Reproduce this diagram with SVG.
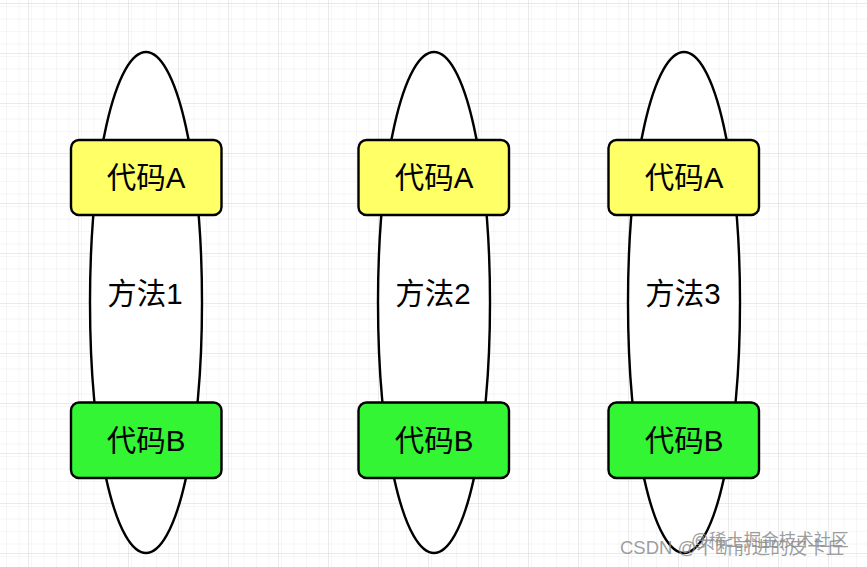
<svg xmlns="http://www.w3.org/2000/svg" width="867" height="567" viewBox="0 0 867 567">
<defs>
<pattern id="minor" x="3" y="3" width="12.5" height="12.5" patternUnits="userSpaceOnUse">
<path d="M0 0 H12.5 M0 0 V12.5" fill="none" stroke="#ececec" stroke-width="1"/>
</pattern>
<pattern id="major" x="28" y="3" width="50" height="50" patternUnits="userSpaceOnUse">
<rect width="50" height="50" fill="url(#minor)"/>
<path d="M0 0 H50 M0 0 V50" fill="none" stroke="#d6d6d6" stroke-width="1"/>
</pattern>
</defs>
<style>
.oval{fill:#ffffff;stroke:#000000;stroke-width:2.4}
.box{stroke:#000000;stroke-width:2.4}
.a{fill:#ffff66}
.b{fill:#33f533}
.t{font-family:"Liberation Sans","Noto Sans CJK SC",sans-serif;font-size:29.5px;fill:#000000;text-anchor:middle;dominant-baseline:central}
.wm{font-family:"Liberation Sans","Noto Sans CJK SC",sans-serif;fill:#8c8c8c;fill-opacity:0.85}
</style>
<rect width="867" height="567" fill="#ffffff"/>
<rect width="867" height="567" fill="url(#major)"/>
<g id="connectors"/>
<g id="method1">
<ellipse class="oval" cx="146" cy="302.5" rx="56" ry="250.5"/>
<text class="t" x="145" y="293">方法1</text>
</g>
<g id="codeA1">
<rect class="box a" x="71" y="140" width="150.5" height="75" rx="8"/>
<text class="t" x="146" y="177.5">代码A</text>
</g>
<g id="codeB1">
<rect class="box b" x="71" y="402.5" width="150.5" height="75.5" rx="8"/>
<text class="t" x="146" y="440">代码B</text>
</g>
<g id="method2">
<ellipse class="oval" cx="434" cy="302.5" rx="56" ry="250.5"/>
<text class="t" x="433" y="293">方法2</text>
</g>
<g id="codeA2">
<rect class="box a" x="358.5" y="140" width="150.5" height="75" rx="8"/>
<text class="t" x="434" y="177.5">代码A</text>
</g>
<g id="codeB2">
<rect class="box b" x="358.5" y="402.5" width="150.5" height="75.5" rx="8"/>
<text class="t" x="434" y="440">代码B</text>
</g>
<g id="method3">
<ellipse class="oval" cx="684" cy="302.5" rx="56" ry="250.5"/>
<text class="t" x="683" y="293">方法3</text>
</g>
<g id="codeA3">
<rect class="box a" x="608.5" y="140" width="150.5" height="75" rx="8"/>
<text class="t" x="684" y="177.5">代码A</text>
</g>
<g id="codeB3">
<rect class="box b" x="608.5" y="402.5" width="150.5" height="75.5" rx="8"/>
<text class="t" x="684" y="440">代码B</text>
</g>
<g id="watermark">
<text class="wm" x="691" y="546" font-size="17.5">@稀土掘金技术社区</text>
<text class="wm" x="620" y="554" font-size="18.5">CSDN @不断前进的皮卡丘</text>
</g>
</svg>
